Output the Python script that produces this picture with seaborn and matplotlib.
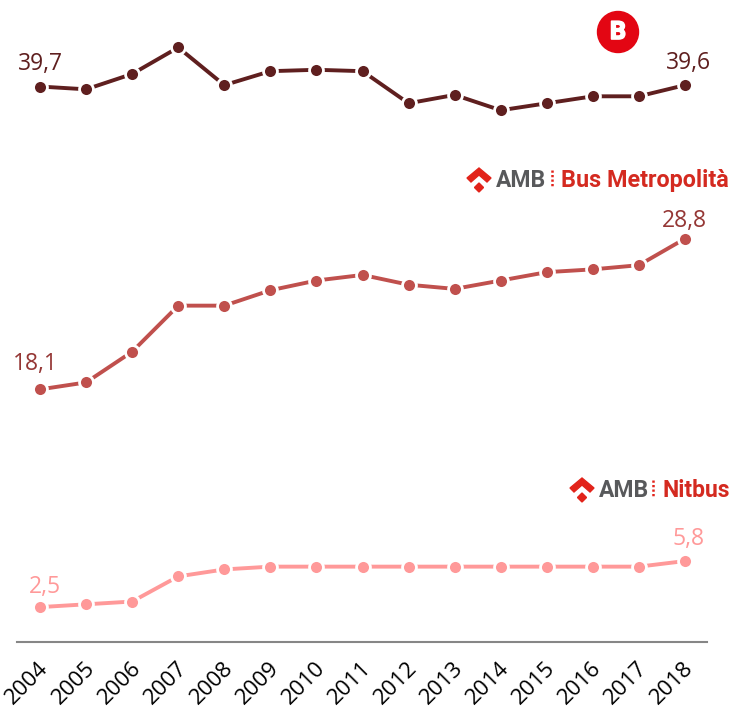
import pandas as pd
import matplotlib
matplotlib.use('Agg')
import matplotlib.pyplot as plt
import matplotlib.patheffects as pe
import seaborn as sns
from matplotlib.lines import Line2D
from matplotlib.patches import Circle, Polygon
from matplotlib.transforms import Affine2D, ScaledTranslation

anys = [2004, 2005, 2006, 2007, 2008, 2009, 2010, 2011, 2012, 2013, 2014, 2015, 2016, 2017, 2018]
metro = [39.8, 39.6, 40.7, 42.6, 39.9, 40.9, 41.0, 40.9, 38.6, 39.2, 38.1, 38.6, 39.1, 39.1, 39.9]
bus_metropolita = [18.1, 18.6, 20.8, 24.1, 24.1, 25.2, 25.9, 26.3, 25.6, 25.3, 25.9, 26.5, 26.7, 27.0, 28.9]
nitbus = [2.5, 2.7, 2.9, 4.7, 5.2, 5.4, 5.4, 5.4, 5.4, 5.4, 5.4, 5.4, 5.4, 5.4, 5.8]

series = [('metro', metro, '#5f1f1f', '39,7', '39,6'),
          ('bus', bus_metropolita, '#c0504d', '18,1', '28,8'),
          ('nitbus', nitbus, '#ff9999', '2,5', '5,8')]
text_colors = {'metro': '#5f1f1f', 'bus': '#953735', 'nitbus': '#ff9999'}

# label offsets from the point, in pixels: (first dx, first dy, last dx, last dy)
offsets = {'metro': (0, 23, 4, 22), 'bus': (-5, 25, -1, 18), 'nitbus': (5, 20, 4, 22)}

sns.set_style('white')
plt.rcParams['font.family'] = ['Open Sans', 'DejaVu Sans']

fig = plt.figure(figsize=(7.31, 7.07), dpi=100)
ax = fig.add_axes([17 / 731, 65 / 707, 690 / 731, 642 / 707])

for nom, valors, color, primer, ultim in series:
    dades = pd.DataFrame({'any': anys, 'valor': valors})
    sns.lineplot(data=dades, x='any', y='valor', color=color, linewidth=2.8,
                 marker='o', markersize=10, markeredgecolor='white',
                 markeredgewidth=2, ax=ax, clip_on=False)
    off = offsets[nom]
    ax.annotate(primer, (anys[0], valors[0]), xytext=(off[0] * 0.72, off[1] * 0.72),
                textcoords='offset points', ha='center', va='center', fontsize=16.5,
                color=text_colors[nom])
    ax.annotate(ultim, (anys[-1], valors[-1]), xytext=(off[2] * 0.72, off[3] * 0.72),
                textcoords='offset points', ha='center', va='center', fontsize=16.5,
                color=text_colors[nom])

ax.set_xlim(2003.5, 2018.478)
ax.set_ylim(0, 46)
ax.set_xticks(anys)
ax.set_xticklabels(anys, rotation=45, ha='right', rotation_mode='anchor', fontsize=16, color='black')
ax.set_yticks([])
ax.set_xlabel('')
ax.set_ylabel('')
ax.tick_params(axis='x', length=0, pad=11)
desplaca = ScaledTranslation(-2 / 100, 0, fig.dpi_scale_trans)
for etiqueta in ax.get_xticklabels():
    etiqueta.set_transform(etiqueta.get_transform() + desplaca)
for costat in ['top', 'left', 'right']:
    ax.spines[costat].set_visible(False)
ax.spines['bottom'].set_color('#868686')
ax.spines['bottom'].set_linewidth(1.5)

# logos, in pixels of the reference
px = Affine2D().scale(1 / 731, -1 / 707).translate(0, 1) + fig.transFigure


def logo_amb(x, y, nom, x_amb, x_sep, x_nom, mida):
    fig.add_artist(Polygon([(x + 12, y - 11), (x + 24, y - 1), (x + 20, y + 3),
                            (x + 12, y - 4), (x + 4, y + 3), (x, y - 1)],
                           closed=True, color='#e2231a', transform=px))
    fig.add_artist(Polygon([(x + 12, y + 4), (x + 16.5, y + 8.5), (x + 12, y + 13), (x + 7.5, y + 8.5)],
                           closed=True, color='#e2231a', transform=px))
    fig.text(x_amb, y + 1.5, 'AMB', transform=px, fontsize=16.5, fontweight='bold', color='#58595b',
             ha='left', va='center', family=['Roboto', 'DejaVu Sans'])
    fig.add_artist(Line2D([x_sep, x_sep], [y - 9, y + 9], color='#e2231a', linewidth=1.8,
                          linestyle=(0, (0.9, 0.9)), transform=px))
    fig.text(x_nom, y + 1.5, nom, transform=px, fontsize=mida, fontweight='bold', color='#d42a20',
             ha='left', va='center', family=['Roboto', 'DejaVu Sans'])


logo_amb(467, 179, 'Bus Metropolità', 496, 552, 561, 16.8)
logo_amb(570, 489, 'Nitbus', 599, 653, 662, 16.5)

fig.add_artist(Circle((618, 32), 20.5, color='#e30613', transform=px))
fig.text(618, 32, 'B', transform=px, fontsize=18, fontweight='bold', color='white',
         ha='center', va='center', family=['Roboto', 'DejaVu Sans'],
         path_effects=[pe.withStroke(linewidth=1.2, foreground='white')])

plt.savefig('out.png', dpi=100)
